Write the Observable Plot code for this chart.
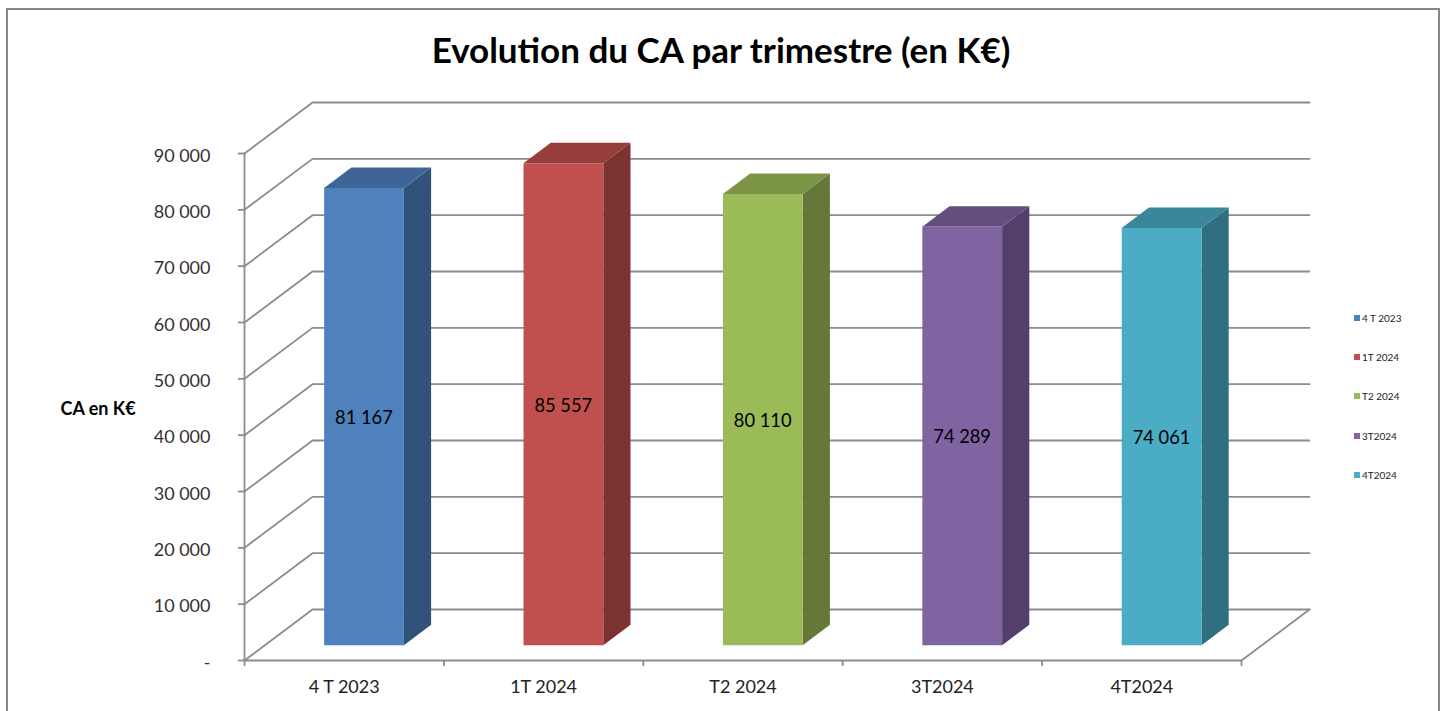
<!DOCTYPE html>
<html lang="fr">
<head>
<meta charset="utf-8">
<script src="https://cdn.jsdelivr.net/npm/d3@7"></script>
<script src="https://cdn.jsdelivr.net/npm/@observablehq/plot@0.6"></script>
<style>
  html, body { margin: 0; padding: 0; background: #fff; overflow: hidden; }
  body { width: 1446px; height: 711px; position: relative; font-family: Lato, sans-serif; }
  #frame { position: absolute; left: 6px; top: 8px; width: 1430px; height: 720px; border: 2px solid #868686; box-sizing: content-box; pointer-events: none; }
  #title { height: 90px; box-sizing: border-box; padding-top: 27px; padding-left: 0; width: 1442px; text-align: center; font-size: 35px; line-height: 44px; font-weight: 700; color: #000; }
  #chart svg { display: block; }
  #legend { position: absolute; left: 1354px; top: 311px; font-size: 10px; line-height: 14px; color: #222; }
  #legend div { height: 39.2px; white-space: nowrap; }
  #legend i { display: inline-block; width: 6px; height: 6px; margin-right: 2px; vertical-align: 1px; }
</style>
</head>
<body>
<div id="frame"></div>
<div id="title">Evolution du CA par trimestre (en K€)</div>
<div id="chart"></div>
<div id="legend"></div>
<script>
const categories = ["4 T 2023", "1T 2024", "T2 2024", "3T2024", "4T2024"];
const legendLabels = ["4 T 2023", "1T 2024", "T2 2024", "3T2024", "4T2024"];
const values = [81167, 85557, 80110, 74289, 74061];
const yTicks = [0, 10000, 20000, 30000, 40000, 50000, 60000, 70000, 80000, 90000];
const frontColors = ["#4F81BD", "#C0504D", "#9BBB59", "#8064A2", "#4BACC6"];
const topColors = ["#3E6596", "#963E3C", "#7B9446", "#644E80", "#3A879C"];
const sideColors = ["#325379", "#7B3230", "#64783A", "#523F6B", "#2F6F81"];

// Oblique 3D projection expressed in the chart's own units (category index, value)
const depthX = 0.341, depthY = 9050;
const px = (u, d) => u + d * depthX;
const py = (v, d) => v + d * depthY;
const barStart = 0.3, barEnd = 0.7, dFront = 0.29, dBack = 0.69;

// One row pair per quadrilateral face
const faces = [];
function quad(id, color, a, b, c, d) {
  faces.push({id, color, x1: a[0], y1: a[1], x2: d[0], y2: d[1]});
  faces.push({id, color, x1: b[0], y1: b[1], x2: c[0], y2: c[1]});
}
values.forEach((v, i) => {
  const u0 = i + barStart + 0.003, u1 = i + barEnd + 0.003;
  const P = (u, val, d) => [px(u, d), py(val, d)];
  quad(`side${i}`, sideColors[i], P(u1, v, dFront), P(u1, v, dBack), P(u1, 0, dBack), P(u1, 0, dFront));
  quad(`top${i}`, topColors[i], P(u0, v, dBack), P(u1, v, dBack), P(u1, v, dFront), P(u0, v, dFront));
  quad(`front${i}`, frontColors[i], P(u0, v, dFront), P(u1, v, dFront), P(u1, 0, dFront), P(u0, 0, dFront));
});

// Gridlines : left wall diagonal + back wall horizontal, plus floor edges and axis
const n = categories.length;
const wall = [];
yTicks.forEach(t => {
  wall.push({k: t, x: px(0, 0), y: py(t, 0)});
  wall.push({k: t, x: px(0, 1), y: py(t, 1)});
  wall.push({k: t, x: px(n, 1), y: py(t, 1)});
});
const edges = [
  {k: "axis", x: 0, y: 0}, {k: "axis", x: 0, y: yTicks[yTicks.length - 1]},
  {k: "floor", x: 0, y: 0}, {k: "floor", x: n, y: 0}, {k: "floor", x: px(n, 1), y: py(0, 1)}
];

const fmt = t => t === 0 ? "-" : d3.format(",")(t).replace(/,/g, " ");
const labels = values.map((v, i) => ({
  x: px(i + (barStart + barEnd) / 2, dFront),
  y: py(v / 2, dFront),
  text: fmt(v)
}));

const lineStyle = {stroke: "#8C8C8C", strokeWidth: 1.8, strokeLinejoin: "miter"};
const plot = Plot.plot({
  width: 1446,
  height: 621,
  marginLeft: 244,
  marginRight: 205,
  marginTop: 63,
  marginBottom: 51,
  x: {domain: [0, n]},
  y: {domain: [0, yTicks[yTicks.length - 1]]},
  color: {type: "identity"},
  style: {background: "transparent", fontFamily: "Lato, sans-serif", overflow: "visible"},
  marks: [
    Plot.line(wall, {x: "x", y: "y", z: "k", ...lineStyle}),
    Plot.line(edges, {x: "x", y: "y", z: "k", ...lineStyle}),
    Plot.area(faces, {x1: "x1", y1: "y1", x2: "x2", y2: "y2", z: "id", fill: "color"}),
    Plot.text(labels, {x: "x", y: "y", dy: 1, text: "text", fill: "#000", fontSize: 18.3}),
    Plot.axisY({ticks: yTicks, tickFormat: () => "", tickSize: 6, stroke: "#8C8C8C", strokeWidth: 1.8, label: null}),
    Plot.axisY({ticks: yTicks, tickFormat: fmt, tickSize: 0, tickPadding: 34, fill: "#333", fontSize: 18, label: null, textStroke: "none", dy: 2.5}),
    Plot.axisX({ticks: d3.range(n + 1), tickFormat: () => "", tickSize: 6, stroke: "#8C8C8C", strokeWidth: 1.8, label: null}),
    Plot.axisX({ticks: d3.range(n).map(i => i + 0.5), tickFormat: u => categories[Math.floor(u)], tickSize: 0, tickPadding: 19, fill: "#222", fontSize: 18, label: null, dy: 0.5}),
    Plot.text(["CA en K€"], {frameAnchor: "left", dx: -184, dy: 2, text: d => d, textAnchor: "start", fontWeight: 700, fontSize: 18, fill: "#000"})
  ]
});
document.getElementById("chart").append(plot);

const legend = document.getElementById("legend");
legendLabels.forEach((label, i) => {
  const row = document.createElement("div");
  const sw = document.createElement("i");
  sw.style.background = frontColors[i];
  row.append(sw, label);
  legend.append(row);
});
</script>
</body>
</html>
